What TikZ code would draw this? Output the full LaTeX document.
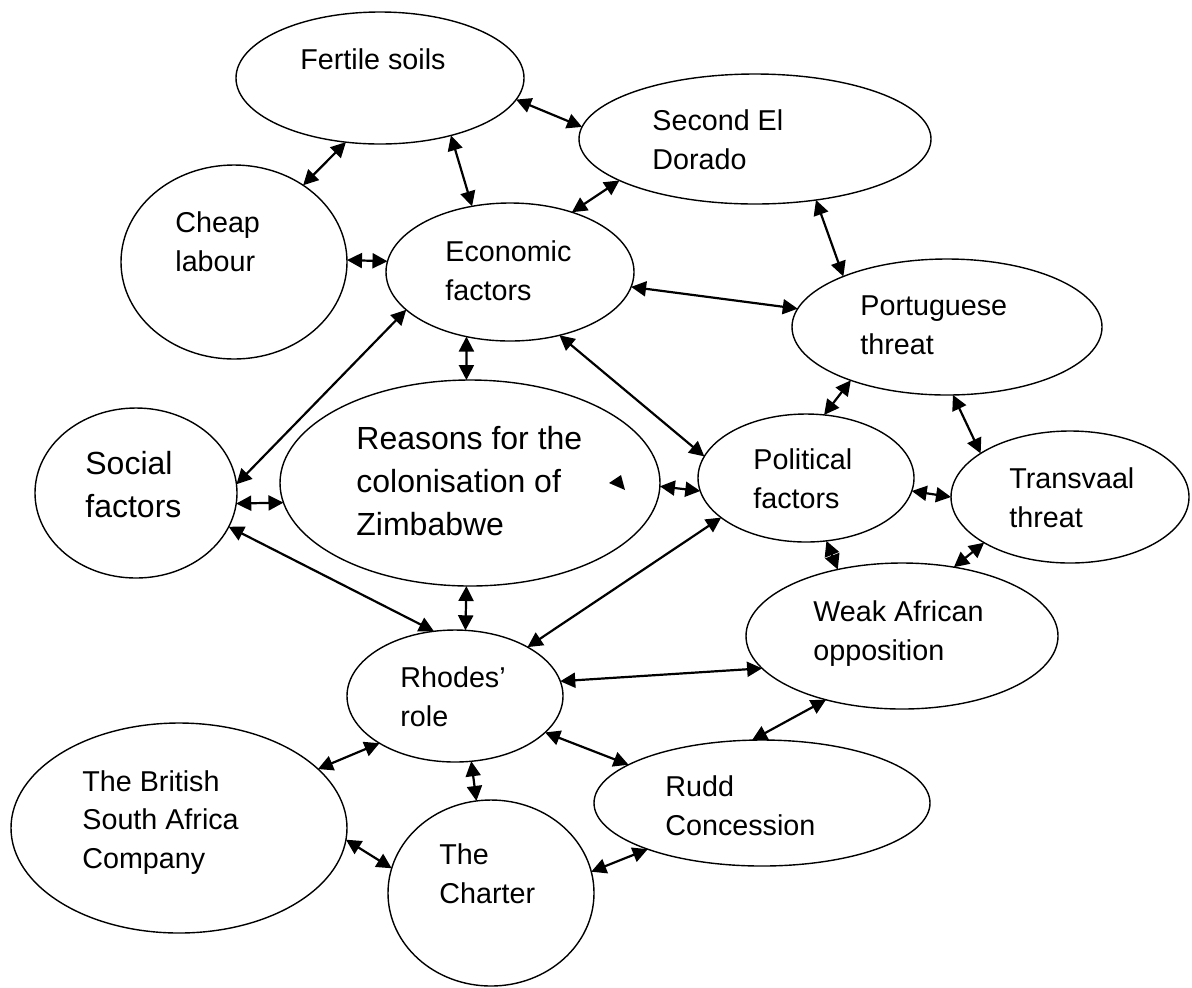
\documentclass[tikz,border=0pt]{standalone}
\usepackage{fontspec}
\setmainfont{Liberation Sans}
\usetikzlibrary{arrows.meta,shapes.geometric}

\tikzset{
  bubble/.style={ellipse, draw, line width=0.7pt, inner sep=0pt, outer sep=0pt},
  dims/.style 2 args={minimum width=#1pt, minimum height=#2pt},
  words/.style={anchor=base west, inner sep=0pt, align=left, font=\fontsize{14.35}{19.2}\selectfont},
  bigwords/.style={words, font=\fontsize{16}{21.5}\selectfont},
  link/.style={{Triangle[length=7.5pt,width=7.5pt]}-{Triangle[length=7.5pt,width=7.5pt]}, line width=1.1pt},
}

\begin{document}
\begin{tikzpicture}[x=0.5pt,y=-0.5pt]
\useasboundingbox (0,0) rectangle (1192,987);

% the bubbles
\node[bubble, dims={144}{66}] (fertile) at (380,78) {};
\node[bubble, dims={176}{65}] (dorado) at (755,139) {};
\node[bubble, dims={113}{97}] (cheap) at (234,262) {};
\node[bubble, dims={124}{69}] (economic) at (510,272) {};
\node[bubble, dims={155}{68}] (portuguese) at (947,327) {};
\node[bubble, dims={101}{85}] (social) at (136,493) {};
\node[bubble, dims={190}{103}] (reasons) at (470,483) {};
\node[bubble, dims={108}{64}] (political) at (806,478) {};
\node[bubble, dims={119}{66}] (transvaal) at (1070,497) {};
\node[bubble, dims={156}{73}] (weak) at (902,636) {};
\node[bubble, dims={108}{66}] (rhodes) at (455,696) {};
\node[bubble, dims={168}{105}] (bsac) at (179,828) {};
\node[bubble, dims={103}{93}] (charter) at (491,893) {};
\node[bubble, dims={168}{63}] (rudd) at (762,803) {};

% their texts (placed by the last baseline)
\node[words] (fertile-t) at (300,69) {Fertile soils};
\node[words] (dorado-t) at (652,169) {Second El\\Dorado};
\node[words] (cheap-t) at (175,271) {Cheap\\labour};
\node[words] (economic-t) at (445,300) {Economic\\factors};
\node[words] (portuguese-t) at (860,354) {Portuguese\\threat};
\node[bigwords] (social-t) at (85,517) {Social\\factors};
\node[bigwords] (reasons-t) at (356,535) {Reasons for the\\colonisation of\\Zimbabwe};
\node[words] (political-t) at (753,508) {Political\\factors};
\node[words] (transvaal-t) at (1009,527) {Transvaal\\threat};
\node[words] (weak-t) at (813,660) {Weak African\\opposition};
\node[words] (rhodes-t) at (400,726) {Rhodes'\\role};
\node[words] (bsac-t) at (82,868) {The British\\South Africa\\Company};
\node[words] (charter-t) at (439,903) {The\\Charter};
\node[words] (rudd-t) at (665,835) {Rudd\\Concession};

% stray arrow head
\fill (609,483) -- (621,475) -- (625,490) -- cycle;

% links
\draw[link] (fertile.-9) -- (dorado.176);
\draw[link] (fertile.-118) -- (cheap.48);
\draw[link] (fertile.-39) -- (economic.120);
\draw[link] (dorado.-163) -- (economic.44);
\draw[link] (cheap.1) -- (economic.175);
\draw[link] (economic.-7) -- (portuguese.173);
\draw[link] (dorado.-45) -- (portuguese.154);
\draw[link] (economic.-160) -- (social.5);
\draw[link] (economic.-124) -- (reasons.92);
\draw[link] (social.-6) -- (reasons.186);
\draw[link] (social.-20) -- (rhodes.108);
\draw[link] (reasons.-92) -- (rhodes.81);
\draw[link] (reasons.-1) -- (political.187);
\draw[link] (economic.-52) -- (political.168);
\draw[link] (political.-155) -- (rhodes.34);
\draw[link] (portuguese.-151) -- (political.74);
\draw[link] (portuguese.-85) -- (transvaal.154);
\draw[link] (political.-7) -- (transvaal.180);
\draw[link] (political.-72) -- (weak.134);
\draw[link] (transvaal.-152) -- (weak.53);
\draw[link] (rhodes.8) -- (weak.-167);
\draw[link] (weak.-140) -- (rudd.99);
\draw[link] (rhodes.-148) -- (bsac.23);
\draw[link] (rhodes.-22) -- (rudd.164);
\draw[link] (rhodes.-76) -- (charter.99);
\draw[link] (bsac.-4) -- (charter.166);
\draw[link] (charter.12) -- (rudd.-158);
\end{tikzpicture}
\end{document}
